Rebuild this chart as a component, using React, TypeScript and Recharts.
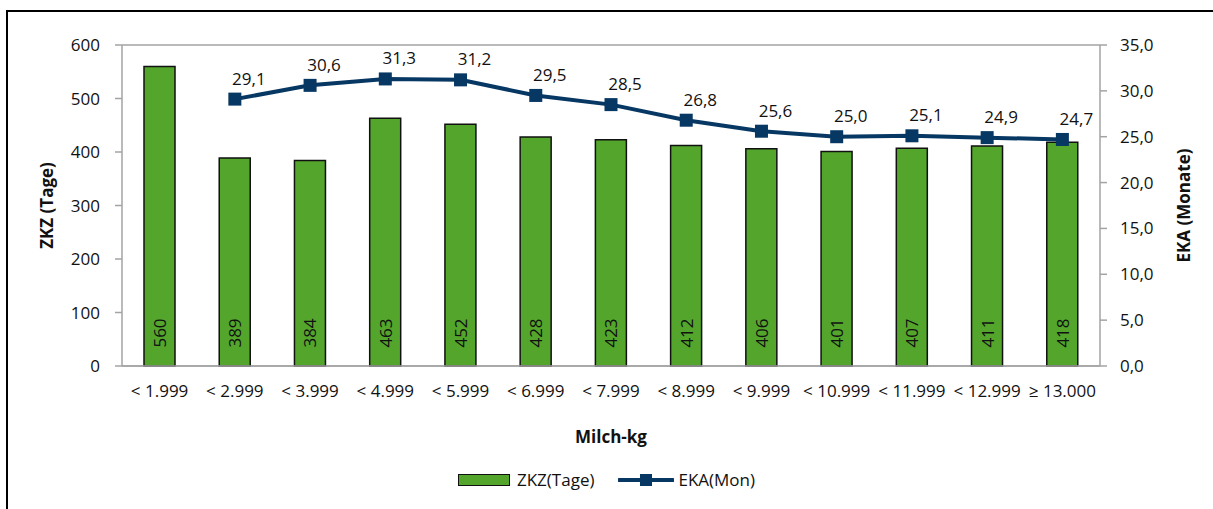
import React from "react";
import {
  Bar,
  CartesianGrid,
  ComposedChart,
  Label,
  LabelList,
  Legend,
  Line,
  XAxis,
  YAxis,
} from "recharts";

const categories = [
  "< 1.999",
  "< 2.999",
  "< 3.999",
  "< 4.999",
  "< 5.999",
  "< 6.999",
  "< 7.999",
  "< 8.999",
  "< 9.999",
  "< 10.999",
  "< 11.999",
  "< 12.999",
  "≥ 13.000",
];
const zkzValues = [560, 389, 384, 463, 452, 428, 423, 412, 406, 401, 407, 411, 418];
const ekaValues = [null, 29.1, 30.6, 31.3, 31.2, 29.5, 28.5, 26.8, 25.6, 25.0, 25.1, 24.9, 24.7];
const leftTicks = [0, 100, 200, 300, 400, 500, 600];
const rightTicks = [0, 5, 10, 15, 20, 25, 30, 35];

const data = categories.map((name, i) => ({
  name,
  zkz: zkzValues[i],
  eka: ekaValues[i],
}));

const GREEN = "#53a62b";
const NAVY = "#073763";
const GRID = "#a3a3a3";
const FONT = "'Open Sans', sans-serif";
const TEXT = "#111";
const FS = 17;

const de = (v: number) => v.toFixed(1).replace(".", ",");

const SquareDot = (props: any) => {
  const { cx, cy, index } = props;
  if (cx == null || cy == null) return <g key={`d${index}`} />;
  return <rect key={`d${index}`} x={cx - 6.5} y={cy - 6.5} width={13} height={13} fill={NAVY} />;
};

const BarValue = (props: any) => {
  const { x, y, width, height, value } = props;
  const cx = x + width / 2;
  const cy = y + height - 33;
  return (
    <text
      x={cx}
      y={cy}
      transform={`rotate(-90, ${cx}, ${cy})`}
      textAnchor="middle"
      dominantBaseline="central"
      fontSize={FS}
      fontFamily={FONT}
      fill={TEXT}
    >
      {value}
    </text>
  );
};

const LineValue = (props: any) => {
  const { x, y, value } = props;
  if (value == null) return null;
  return (
    <text x={x + 14} y={y - 21} textAnchor="middle" dominantBaseline="central" fontSize={FS} fontFamily={FONT} fill={TEXT}>
      {de(value)}
    </text>
  );
};

const YTitle = (text: string, dx: number) => (props: any) => {
  const { viewBox } = props;
  const x = viewBox.x + dx;
  const y = viewBox.y + viewBox.height / 2;
  return (
    <text
      x={x}
      y={y}
      transform={`rotate(-90, ${x}, ${y})`}
      textAnchor="middle"
      dominantBaseline="central"
      fontSize={FS}
      fontWeight="bold"
      fontFamily={FONT}
      fill={TEXT}
    >
      {text}
    </text>
  );
};

const LegendContent = () => (
  <div
    style={{
      display: "flex",
      justifyContent: "center",
      alignItems: "center",
      fontFamily: FONT,
      fontSize: FS,
      color: TEXT,
    }}
  >
    <span style={{ display: "inline-block", width: 50, height: 10, background: GREEN, border: "1.5px solid #111", marginRight: 7 }} />
    <span style={{ marginRight: 24 }}>ZKZ(Tage)</span>
    <svg width={56} height={14} style={{ marginRight: 4 }}>
      <line x1={1} y1={7} x2={55} y2={7} stroke={NAVY} strokeWidth={4} strokeLinecap="round" />
      <rect x={22} y={1} width={12} height={12} fill={NAVY} />
    </svg>
    <span>EKA(Mon)</span>
  </div>
);

export default function App() {
  return (
    <div style={{ position: "absolute", left: 0, top: 0, width: 1213, height: 509, overflow: "hidden", background: "#fff" }}>
      <div
        style={{
          position: "absolute",
          left: 6,
          top: 10,
          width: 1300,
          height: 600,
          border: "2px solid #000",
          boxSizing: "border-box",
        }}
      />
      <div style={{ position: "absolute", left: 0, top: 0 }}>
        <ComposedChart
          width={1213}
          height={509}
          data={data}
          margin={{ top: 45, right: 13, left: 30, bottom: 40 }}
        >
          <CartesianGrid vertical={false} stroke={GRID} strokeWidth={1.5} />
          <XAxis
            dataKey="name"
            interval={0}
            height={80}
            tickLine={false}
            tickMargin={13}
            axisLine={{ stroke: GRID, strokeWidth: 1.5 }}
            tick={{ fontSize: FS, fontFamily: FONT, fill: TEXT }}
          >
            <Label
              content={(p: any) => (
                <text
                  x={p.viewBox.x + p.viewBox.width / 2}
                  y={p.viewBox.y + 70}
                  textAnchor="middle"
                  dominantBaseline="central"
                  fontSize={FS}
                  fontWeight="bold"
                  fontFamily={FONT}
                  fill={TEXT}
                >
                  Milch-kg
                </text>
              )}
            />
          </XAxis>
          <YAxis
            yAxisId="left"
            width={92}
            domain={[0, 600]}
            ticks={leftTicks}
            tickSize={7}
            tickMargin={15}
            tickLine={{ stroke: GRID, strokeWidth: 1.5 }}
            axisLine={{ stroke: GRID, strokeWidth: 1.5 }}
            tick={{ fontSize: FS, fontFamily: FONT, fill: TEXT }}
          >
            <Label content={YTitle("ZKZ (Tage)", 16)} />
          </YAxis>
          <YAxis
            yAxisId="right"
            orientation="right"
            width={100}
            domain={[0, 35]}
            ticks={rightTicks}
            tickFormatter={de}
            tickSize={7}
            tickMargin={13}
            tickLine={{ stroke: GRID, strokeWidth: 1.5 }}
            axisLine={{ stroke: GRID, strokeWidth: 1.5 }}
            tick={{ fontSize: FS, fontFamily: FONT, fill: TEXT }}
          >
            <Label content={YTitle("EKA (Monate)", 83)} />
          </YAxis>
          <Legend
            layout="vertical"
            align="center"
            verticalAlign="bottom"
            content={<LegendContent />}
            wrapperStyle={{ left: 0, top: 468, width: 1213, bottom: "auto" }}
          />
          <Bar
            yAxisId="left"
            dataKey="zkz"
            name="ZKZ(Tage)"
            barSize={31}
            fill={GREEN}
            stroke="#111"
            strokeWidth={1.5}
            isAnimationActive={false}
          >
            <LabelList dataKey="zkz" content={<BarValue />} />
          </Bar>
          <Line
            yAxisId="right"
            dataKey="eka"
            name="EKA(Mon)"
            stroke={NAVY}
            strokeWidth={4}
            dot={<SquareDot />}
            activeDot={false}
            isAnimationActive={false}
          >
            <LabelList dataKey="eka" content={<LineValue />} />
          </Line>
        </ComposedChart>
      </div>
    </div>
  );
}
